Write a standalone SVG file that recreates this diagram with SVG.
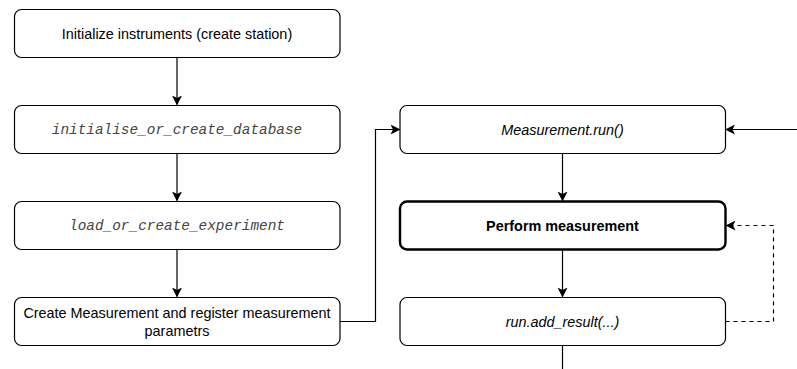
<svg xmlns="http://www.w3.org/2000/svg" width="797" height="369" viewBox="0 0 797 369">
<defs>
<style>
.box{fill:#fff;stroke:#000;stroke-width:1.2}
.bold{stroke-width:2.4}
.t{font-family:"Liberation Sans",Arial,sans-serif;font-size:14.4px;fill:#000;text-anchor:middle}
.it{font-style:italic}
.b{font-weight:bold}
.mono{font-family:"Liberation Mono","Courier New",monospace;font-size:14.4px;font-style:italic;fill:#444;text-anchor:middle}
.c{fill:none;stroke:#000;stroke-width:1.2}
.d{stroke-dasharray:4 4}
</style>
<marker id="ah" viewBox="0 0 10 10" refX="9" refY="5" markerWidth="10" markerHeight="10" markerUnits="userSpaceOnUse" orient="auto">
<path d="M0,0 L10,5 L0,10 L2.5,5 Z" fill="#000"/>
</marker>
</defs>
<g id="connectors">
<path class="c" d="M177,57.5 V104.5" marker-end="url(#ah)"/>
<path class="c" d="M177,153.5 V200.5" marker-end="url(#ah)"/>
<path class="c" d="M177,249.5 V296.5" marker-end="url(#ah)"/>
<path class="c" d="M340,321.5 H375.5 V129.5 H399.5" marker-end="url(#ah)"/>
<path class="c" d="M797,129.5 H726" marker-end="url(#ah)"/>
<path class="c" d="M562.5,153.5 V200.5" marker-end="url(#ah)"/>
<path class="c" d="M562.5,249.5 V296.5" marker-end="url(#ah)"/>
<path class="c d" d="M725.5,321.5 H773.5 V225.5 H726.5" marker-end="url(#ah)"/>
<path class="c" d="M562.5,345.5 V369"/>
</g>
<g id="n1"><rect class="box" x="14.5" y="9.5" width="325.5" height="48" rx="7"/><text class="t" x="177" y="38.5">Initialize instruments (create station)</text></g>
<g id="n2"><rect class="box" x="14.5" y="105.5" width="325.5" height="48" rx="7"/><text class="mono" x="177" y="134">initialise_or_create_database</text></g>
<g id="n3"><rect class="box" x="14.5" y="201.5" width="325.5" height="48" rx="7"/><text class="mono" x="177" y="230">load_or_create_experiment</text></g>
<g id="n4"><rect class="box" x="14.5" y="297.5" width="325.5" height="48" rx="7"/><text class="t" x="177" y="318">Create Measurement and register measurement</text><text class="t" x="177" y="336">parametrs</text></g>
<g id="n5"><rect class="box" x="400" y="105.5" width="325.5" height="48" rx="7"/><text class="t it" x="562.5" y="134.5">Measurement.run()</text></g>
<g id="n6"><rect class="box bold" x="400" y="201.5" width="325.5" height="48" rx="7"/><text class="t b" x="562.5" y="230.5">Perform measurement</text></g>
<g id="n7"><rect class="box" x="400" y="297.5" width="325.5" height="48" rx="7"/><text class="t it" x="562.5" y="326.5">run.add_result(...)</text></g>
</svg>
